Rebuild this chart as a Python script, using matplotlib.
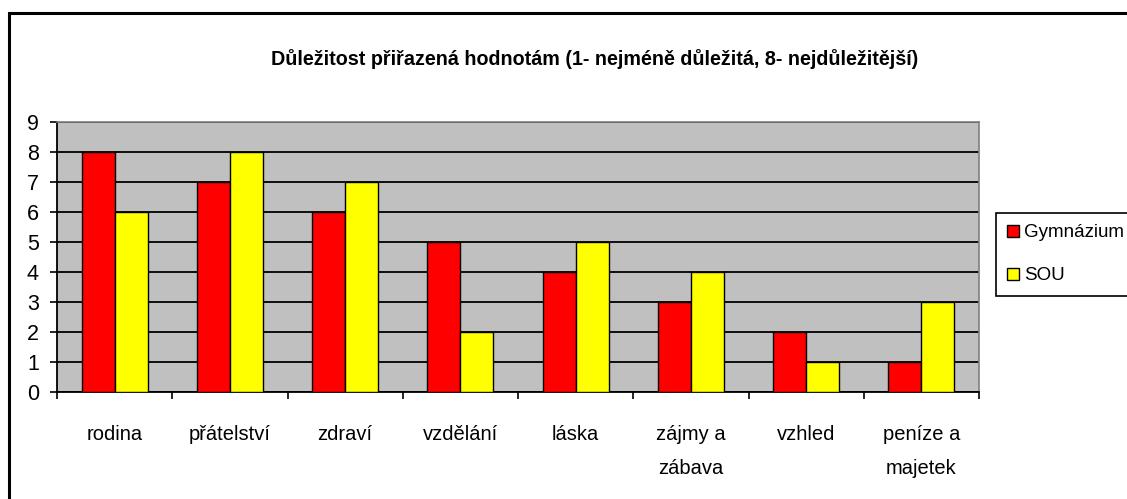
import numpy as np
import matplotlib.pyplot as plt
from matplotlib.patches import Rectangle

plt.rcParams['font.family'] = ['Liberation Sans', 'DejaVu Sans']

# data
categories = ["rodina", "přátelství", "zdraví", "vzdělání", "láska",
              "zájmy a\nzábava", "vzhled", "peníze a\nmajetek"]
gymnazium = [8, 7, 6, 5, 4, 3, 2, 1]
sou = [6, 8, 7, 2, 5, 4, 1, 3]
series_names = ["Gymnázium", "SOU"]

W, H = 1127, 499
fig = plt.figure(figsize=(W / 100, H / 100), dpi=100)
fig.patch.set_facecolor("white")

# outer chart frame, runs off the right and bottom edges
frame = Rectangle((9 / W, -0.1), 1.2, 1 - 13 / H + 0.1, transform=fig.transFigure,
                  fill=False, edgecolor="black", lw=2.2, zorder=0)
fig.patches.append(frame)

ax = fig.add_axes([57 / W, 1 - 392 / H, (979 - 57) / W, (392 - 122) / H])
ax.set_facecolor("#C0C0C0")

x = np.arange(len(categories)) + 0.5
bw = 1 / 3.5
ax.bar(x - bw / 2, gymnazium, bw, color="#FF0000", edgecolor="black", lw=1,
       label=series_names[0], zorder=3)
ax.bar(x + bw / 2, sou, bw, color="#FFFF00", edgecolor="black", lw=1,
       label=series_names[1], zorder=3)

ax.set_xlim(0, len(categories))
ax.set_ylim(0, 9)
ax.set_yticks(range(10))
ax.yaxis.grid(True, color="black", lw=1.3, zorder=1)
ax.set_axisbelow(True)

ax.set_xticks(range(len(categories) + 1))
ax.set_xticklabels([])
ax.set_xticks(x, minor=True)
ax.set_xticklabels(categories, minor=True, fontsize=14.5, linespacing=2.0, va="top")
ax.tick_params(axis="x", which="major", direction="out", length=5, width=1.2)
ax.tick_params(axis="x", which="minor", length=0, pad=24)
ax.tick_params(axis="y", direction="out", length=5, width=1.2, labelsize=15.5, pad=8)

for side in ["left", "bottom"]:
    ax.spines[side].set_color("black")
    ax.spines[side].set_linewidth(1.3)
for side in ["top", "right"]:
    ax.spines[side].set_color("#808080")
    ax.spines[side].set_linewidth(1.2)

fig.text(595 / W, 1 - 59 / H,
         "Důležitost přiřazená hodnotám (1- nejméně důležitá, 8- nejdůležitější)",
         ha="center", va="center", fontsize=14.2, fontweight="bold")

leg = fig.legend(loc="upper left", bbox_to_anchor=(996 / W, 1 - 213 / H),
                 fontsize=13.5, handlelength=0.6, handleheight=0.6, handletextpad=0.3,
                 labelspacing=1.4, borderpad=0.6, borderaxespad=0, fancybox=False,
                 framealpha=1, edgecolor="black")
leg.get_frame().set_linewidth(1.2)

fig.savefig("out.png", dpi=100)
